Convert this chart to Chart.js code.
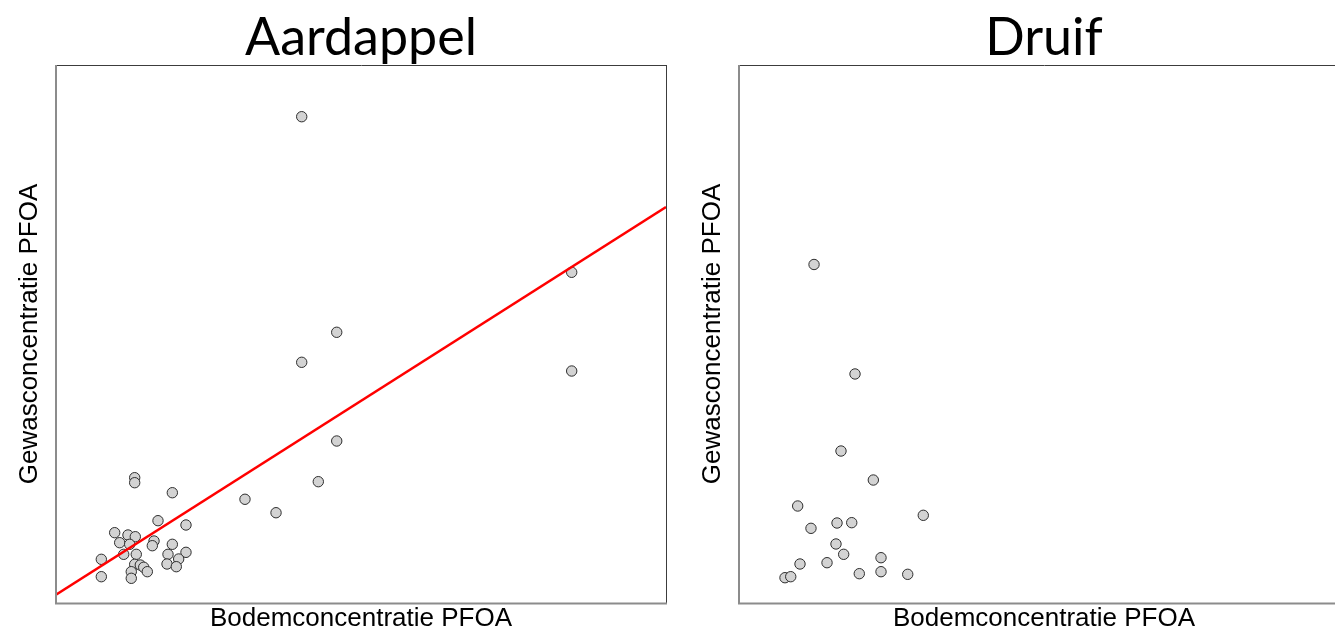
<!DOCTYPE html>
<html>
<head>
<meta charset="utf-8">
<title>PFOA bodem vs gewas</title>
<script src="https://cdn.jsdelivr.net/npm/chart.js@4.4.1/dist/chart.umd.min.js"></script>
<style>
  html, body { margin: 0; padding: 0; background: #ffffff; overflow: hidden; }
  body { width: 1335px; height: 629px; position: relative; }
  canvas { position: absolute; top: 0; }
  #aardappel { left: 0; }
  #druif { left: 683px; }
</style>
</head>
<body>
<canvas id="aardappel" width="683" height="629"></canvas>
<canvas id="druif" width="670" height="629"></canvas>
<script>
// Bodem- (x) en gewasconcentratie (y) PFOA, relatieve eenheden (0-100)
const aardappelBodem = [
  40.28, 84.54, 46.02, 40.28, 84.54, 46.02, 43.00, 30.98, 36.07,
  12.90, 12.90, 19.07, 16.72, 21.31, 9.62, 11.80, 13.00, 10.44, 12.08,
  16.07, 15.79, 19.07, 7.43, 11.10, 13.16, 18.36, 21.31, 20.11, 12.90,
  13.82, 14.38, 14.97, 18.20, 19.72, 12.34, 12.34, 7.43
];
const aardappelGewas = [
  90.39, 61.47, 50.32, 44.74, 43.12, 30.11, 22.55, 19.28, 16.78,
  23.29, 22.36, 20.50, 15.30, 14.50, 13.07, 12.64, 12.32, 11.21, 10.91,
  11.52, 10.65, 10.91, 8.12, 9.05, 9.05, 9.05, 9.42, 8.18, 7.19,
  7.06, 6.64, 5.82, 7.25, 6.75, 5.82, 4.59, 4.89
];
// Lineaire regressie voor aardappel: gewas = intercept + helling * bodem
const aardappelIntercept = 1.54;
const aardappelHelling = 0.7206;

const druifBodem = [
  12.30, 19.02, 16.72, 22.02, 9.62, 30.21, 11.80, 16.07, 18.48, 15.90,
  17.16, 23.28, 10.00, 14.43, 19.72, 23.28, 27.66, 7.54, 8.48
];
const druifGewas = [
  62.92, 42.57, 28.25, 22.86, 18.03, 16.30, 13.88, 14.87, 14.93, 10.97,
  9.05, 8.42, 7.25, 7.49, 5.45, 5.82, 5.33, 4.70, 4.89
];

const asMin = 0, asMax = 100;
const xTitel = 'Bodemconcentratie PFOA';
const yTitel = 'Gewasconcentratie PFOA';

function toPoints(xs, ys) {
  return xs.map((x, i) => ({ x: x, y: ys[i] }));
}

// Kader rond het plotgebied
const kaderPlugin = {
  id: 'kader',
  afterDraw(chart) {
    const { ctx, chartArea: a } = chart;
    ctx.save();
    ctx.lineCap = 'butt';
    // boven en rechts
    ctx.strokeStyle = '#3c3c3c';
    ctx.lineWidth = 1;
    ctx.beginPath();
    ctx.moveTo(a.left, a.top + 0.5);
    ctx.lineTo(a.right + 1, a.top + 0.5);
    ctx.moveTo(a.right + 0.5, a.top);
    ctx.lineTo(a.right + 0.5, a.bottom);
    ctx.stroke();
    // links en onder
    ctx.strokeStyle = '#8c8c8c';
    ctx.lineWidth = 2;
    ctx.beginPath();
    ctx.moveTo(a.left, a.top);
    ctx.lineTo(a.left, a.bottom + 1.5);
    ctx.moveTo(a.left - 1, a.bottom + 0.5);
    ctx.lineTo(a.right + 1, a.bottom + 0.5);
    ctx.stroke();
    ctx.restore();
  }
};

function maakGrafiek(id, titel, datasets, rechts) {
  return new Chart(document.getElementById(id), {
    type: 'scatter',
    data: { datasets: datasets },
    options: {
      responsive: false,
      animation: false,
      events: [],
      layout: { autoPadding: false, padding: { left: 0, right: rechts, top: 0, bottom: 0 } },
      plugins: {
        legend: { display: false },
        tooltip: { enabled: false },
        title: {
          display: true,
          fullSize: false,
          text: titel,
          color: '#000000',
          font: { family: 'Lato', size: 52, weight: 'normal', lineHeight: 1 },
          padding: { top: 12, bottom: 1 }
        }
      },
      scales: {
        x: {
          type: 'linear',
          min: asMin, max: asMax,
          grid: { display: false, drawTicks: false, tickLength: 0 },
          border: { display: false },
          ticks: { display: false },
          title: {
            display: true,
            text: xTitel,
            color: '#000000',
            font: { family: 'Liberation Sans', size: 26, lineHeight: 1 },
            padding: { top: 3, bottom: -3 }
          }
        },
        y: {
          type: 'linear',
          min: asMin, max: asMax,
          grid: { display: false, drawTicks: false, tickLength: 0 },
          border: { display: false },
          ticks: { display: false },
          title: {
            display: true,
            text: yTitel,
            color: '#000000',
            font: { family: 'Liberation Sans', size: 26, lineHeight: 1 },
            padding: { top: 17, bottom: 13 }
          }
        }
      }
    },
    plugins: [kaderPlugin]
  });
}

const puntStijl = {
  type: 'scatter',
  pointRadius: 5.2,
  pointBackgroundColor: '#d3d3d3',
  pointBorderColor: '#2e2e2e',
  pointBorderWidth: 1,
  order: 1
};

maakGrafiek('aardappel', 'Aardappel', [
  {
    type: 'line',
    label: 'Regressielijn',
    data: [
      { x: asMin, y: aardappelIntercept + aardappelHelling * asMin },
      { x: asMax, y: aardappelIntercept + aardappelHelling * asMax }
    ],
    borderColor: '#ff0000',
    borderWidth: 2.5,
    pointRadius: 0,
    fill: false,
    order: 0
  },
  Object.assign({ label: 'Aardappel', data: toPoints(aardappelBodem, aardappelGewas) }, puntStijl)
], 17);

maakGrafiek('druif', 'Druif', [
  Object.assign({ label: 'Druif', data: toPoints(druifBodem, druifGewas) }, puntStijl)
], 4);
</script>
</body>
</html>
